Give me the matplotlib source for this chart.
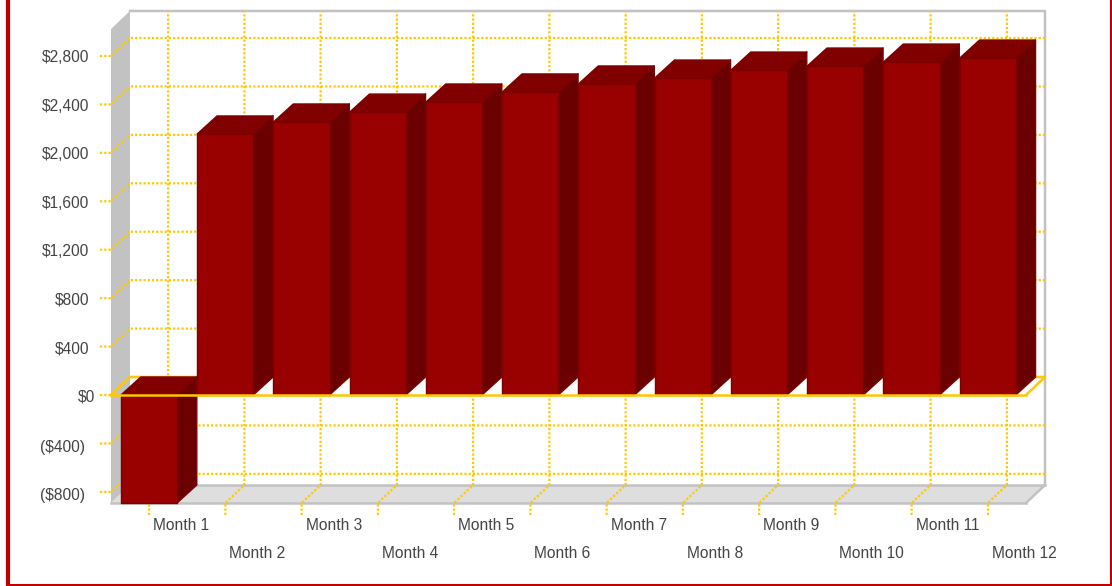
import matplotlib
matplotlib.use('Agg')
import matplotlib.pyplot as plt
from matplotlib.lines import Line2D
from matplotlib.patches import Polygon

plt.rcParams['font.family'] = ['Liberation Sans', 'DejaVu Sans']

months = ['Month %d' % i for i in range(1, 13)]
values = [-892, 2156, 2255, 2337, 2420, 2503, 2569, 2618, 2684, 2717, 2750, 2783]
tick_values = [2800, 2400, 2000, 1600, 1200, 800, 400, 0, -400, -800]
tick_labels = ['$2,800', '$2,400', '$2,000', '$1,600', '$1,200', '$800', '$400',
               '$0', '($400)', '($800)']

W, H = 1112, 586
GOLD = '#ffc800'
WALL = '#c2c2c2'
FLOOR = '#dedede'
FRONT = '#990000'
TOP = '#800000'
SIDE = '#6b0000'
EDGE = '#7d0000'
TEXT = '#444444'
FONT = 11.2

fig = plt.figure(figsize=(W / 100, H / 100), dpi=100, facecolor='white')
ax = fig.add_axes([111 / W, (H - 503) / H, 915 / W, 474 / H])
ax.axis('off')
ymin, ymax = -892, 3023
ax.set_xlim(0, len(months))
ax.set_ylim(ymin, ymax)

# depth of the fake 3D box, in data units
dx = 19 / 76.25
dy = 18 / (474 / (ymax - ymin))
bar_l, bar_r = 0.131, 0.866
bar_dx = dx + 0.01  # closes the hairline between neighbouring bars
n = len(months)


def poly(pts, **kw):
    kw.setdefault('clip_on', False)
    ax.add_patch(Polygon(pts, closed=True, **kw))


def dotted(xs, ys, **kw):
    ax.plot(xs, ys, color=GOLD, lw=1.6, ls=(0, (1, 0.9)), dash_capstyle='butt',
            clip_on=False, **kw)


# left wall and floor
poly([(0, ymin), (dx, ymin + dy), (dx, ymax + dy), (0, ymax)], fc=WALL, ec='none', zorder=1)
poly([(0, ymin), (n, ymin), (n + dx, ymin + dy), (dx, ymin + dy)],
     fc=FLOOR, ec='none', zorder=1)
ax.plot([0, n], [ymin, ymin], color=WALL, lw=1.8, clip_on=False, zorder=1.2)
ax.plot([dx, n + dx], [ymin + dy, ymin + dy], color=WALL, lw=1.8, clip_on=False, zorder=1.2)
ax.plot([dx, n + dx, n + dx, n], [ymax + dy, ymax + dy, ymin + dy, ymin],
        color=WALL, lw=1.8, clip_on=False, zorder=1.2)

# value gridlines: tick, run across the wall, run along the back
tick_len = 11 / 76.25
for v, lab in zip(tick_values, tick_labels):
    dotted([-tick_len, 0, dx, n + dx], [v, v, v + dy, v + dy], zorder=2)
    if v == 0:
        shift, drop_y = -16, -2
    elif v < 0:
        shift, drop_y = -26, -4
    else:
        shift, drop_y = -22, -2
    ax.annotate(lab, (0, v), xytext=(shift, drop_y), textcoords='offset pixels',
                ha='right', va='center', fontsize=FONT, color=TEXT, annotation_clip=False)

# category gridlines and staggered labels
drop = 12 * (ymax - ymin) / 474
for i, m in enumerate(months):
    x = i + 0.5
    dotted([x, x, x + dx, x + dx], [ymin - drop, ymin, ymin + dy, ymax + dy], zorder=2)
    row = 22.5 if i % 2 == 0 else 50.5
    ax.annotate(m, (x, ymin), xytext=(4, -row), textcoords='offset pixels',
                ha='left', va='center', fontsize=FONT, color=TEXT, annotation_clip=False)

# zero plane, back edges first so the bars cover them
ax.plot([0, dx, n + dx, n], [0, dy, dy, 0], color=GOLD, lw=1.8, clip_on=False, zorder=2.5)

for i, v in enumerate(values):
    l, r = i + bar_l, i + bar_r
    hi, lo = max(v, 0), min(v, 0)
    kw = dict(ec=EDGE, lw=1.0, joinstyle='round', zorder=3 + i * 0.01)
    poly([(r, lo), (r + bar_dx, lo + dy), (r + bar_dx, hi + dy), (r, hi)], fc=SIDE, **kw)
    poly([(l, hi), (r, hi), (r + bar_dx, hi + dy), (l + bar_dx, hi + dy)], fc=TOP, **kw)
    poly([(l, lo), (r, lo), (r, hi), (l, hi)], fc=FRONT, **kw)

# front edge of the zero plane sits over the bars
ax.plot([0, n], [0, 0], color=GOLD, lw=1.8, clip_on=False, zorder=4)

# outer border, open along the top edge
for xs, ys, in [([8, 8], [0, H]), ([8, W], [585, 585]), ([1111, 1111], [0, H])]:
    fig.add_artist(Line2D([a / W for a in xs], [1 - b / H for b in ys],
                          color='#bf0000', lw=3 if xs[0] == 8 and xs[1] == 8 else 2.2,
                          transform=fig.transFigure))

fig.savefig('out.png', dpi=100)
